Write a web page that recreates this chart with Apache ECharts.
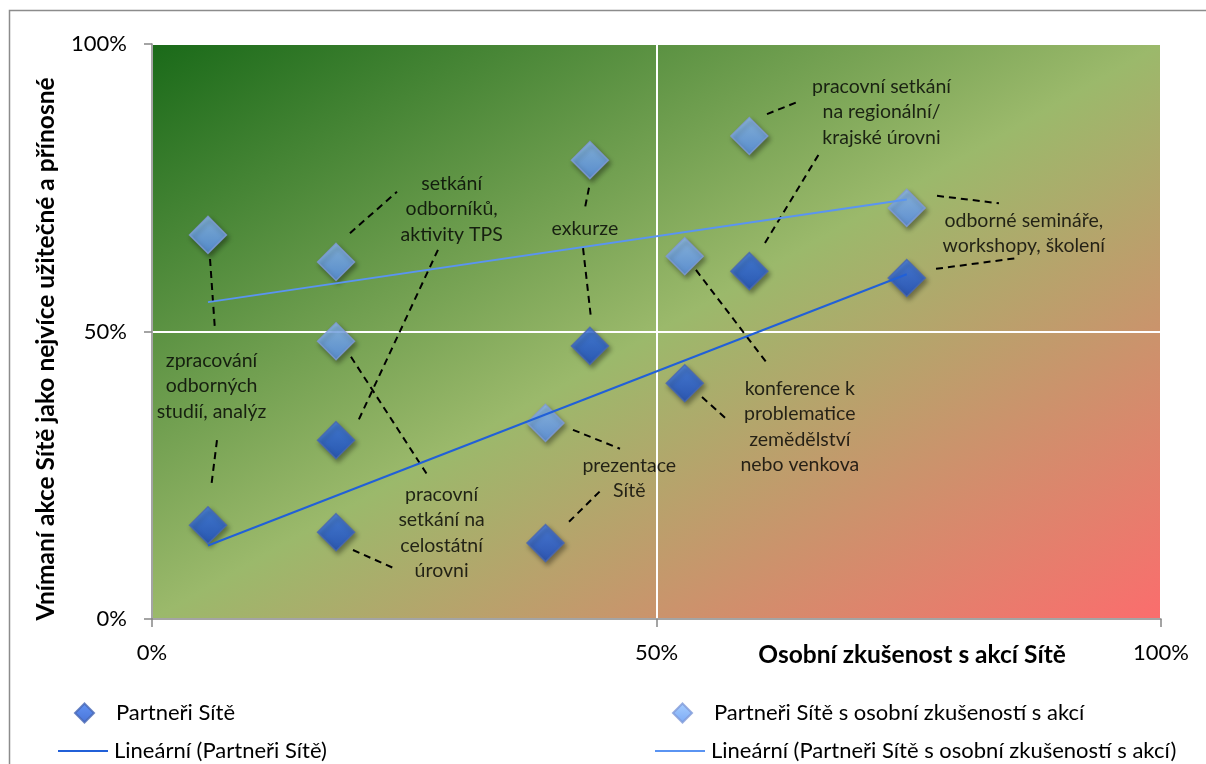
<!DOCTYPE html>
<html>
<head>
<meta charset="utf-8">
<script src="https://cdn.jsdelivr.net/npm/echarts@6/dist/echarts.min.js"></script>
<style>
  html, body { margin: 0; padding: 0; background: #fff; }
  #chart { width: 1206px; height: 764px; }
</style>
</head>
<body>
<div id="chart"></div>
<script>
// Activities of the network (callout texts)
const activities = [
  'zpracování\nodborných\nstudií, analýz',
  'setkání\nodborníků,\naktivity TPS',
  'pracovní\nsetkání na\ncelostátní\núrovni',
  'exkurze',
  'prezentace\nSítě',
  'konference k\nproblematice\nzemědělství\nnebo venkova',
  'pracovní setkání\nna regionální/\nkrajské úrovni',
  'odborné semináře,\nworkshopy, školení'
];
// Share of partners with personal experience of the activity (%)
const experience = [5.55, 18.24, 18.24, 43.4, 39.0, 52.8, 59.2, 74.8];
// Share rating the activity as most useful – all partners (%)
const usefulAll = [16.3, 31.1, 15.1, 47.5, 13.2, 41.0, 60.5, 59.3];
// Share rating the activity as most useful – partners with personal experience (%)
const usefulExperienced = [66.8, 62.1, 48.3, 79.8, 34.1, 63.1, 84.0, 71.5];

const xTickLabels = ['0%', '50%', '100%'];
const yTickLabels = ['0%', '50%', '100%'];

const seriesNames = [
  'Partneři Sítě',
  'Partneři Sítě s osobní zkušeností s akcí',
  'Lineární (Partneři Sítě)',
  'Lineární (Partneři Sítě s osobní zkušeností s akcí)'
];

// Callout text anchors (axis units)
const calloutAnchors = [
  [5.9, 40.5], [29.7, 71.3], [28.7, 15.0], [42.9, 67.8],
  [47.3, 24.5], [64.2, 33.4], [72.3, 88.2], [86.4, 67.1]
];
// Dashed leader segments (axis units)
const leaderSegments = [
  [[5.75, 62.6], [6.24, 50.3]], [[6.44, 31.1], [5.85, 22.8]],
  [[19.62, 67.1], [24.28, 74.3]], [[28.34, 64.2], [20.42, 34.4]],
  [[19.72, 45.6], [27.35, 24.9]], [[19.92, 12.0], [23.89, 8.9]],
  [[43.31, 75.0], [42.91, 71.5]], [[42.72, 64.5], [43.51, 52.3]],
  [[53.91, 60.7], [60.95, 44.5]], [[54.51, 38.6], [56.79, 35.0]],
  [[41.72, 32.9], [46.38, 29.6]], [[41.33, 16.9], [44.5, 22.4]],
  [[60.95, 87.8], [64.22, 90.1]], [[60.75, 65.4], [66.11, 80.9]],
  [[77.8, 73.6], [83.94, 72.3]], [[77.7, 60.9], [85.83, 62.8]]
];

const FONT = 'Lato, "Noto Sans", sans-serif';
const DARK = '#2160d8';
const LIGHT = '#5a94f2';

// Least-squares line across the observed x range
function linearTrend(xs, ys) {
  const n = xs.length;
  const mx = xs.reduce((a, b) => a + b, 0) / n;
  const my = ys.reduce((a, b) => a + b, 0) / n;
  let sxy = 0, sxx = 0;
  for (let i = 0; i < n; i++) {
    sxy += (xs[i] - mx) * (ys[i] - my);
    sxx += (xs[i] - mx) * (xs[i] - mx);
  }
  const slope = sxy / sxx;
  const icpt = my - slope * mx;
  const x0 = Math.min(...xs), x1 = Math.max(...xs);
  return [[x0, icpt + slope * x0], [x1, icpt + slope * x1]];
}

const zip = (xs, ys) => xs.map((x, i) => [x, ys[i]]);

const chart = echarts.init(document.getElementById('chart'), null, { renderer: 'canvas' });

const diamondStyle = (top, bottom, border) => ({
  color: new echarts.graphic.LinearGradient(0, 0, 0, 1, [
    { offset: 0, color: top }, { offset: 1, color: bottom }
  ]),
  borderColor: border,
  borderWidth: 1.5,
  shadowBlur: 5,
  shadowOffsetX: 2,
  shadowOffsetY: 3,
  shadowColor: 'rgba(0,0,0,0.45)'
});

const legendText = { fontFamily: FONT, fontSize: 22, color: '#000' };
const lineIcon = 'path://M0 0H100V4H0Z';

const markerLegend = (name, left) => ({
  data: [{ name: name, icon: 'diamond' }],
  left: left, top: 702, padding: 0,
  itemWidth: 19, itemHeight: 19, selectedMode: false,
  textStyle: Object.assign({ padding: [0, 0, 0, 17] }, legendText)
});
const lineLegend = (name, left, color) => ({
  data: [{ name: name, icon: lineIcon, itemStyle: { color: color } }],
  left: left, top: 740, padding: 0,
  itemWidth: 52, itemHeight: 2, selectedMode: false,
  textStyle: legendText
});

const option = {
  animation: false,
  backgroundColor: '#fff',
  grid: {
    left: 152, top: 44, right: 45, bottom: 145,
    show: true,
    borderWidth: 0,
    backgroundColor: new echarts.graphic.LinearGradient(0, 0, 0.49, 1.51, [
      { offset: 0, color: '#1a6a19' },
      { offset: 0.5, color: '#9bb96b' },
      { offset: 1, color: '#fb6d6d' }
    ])
  },
  xAxis: {
    type: 'value', min: 0, max: 100, interval: 50,
    axisLine: { show: true, lineStyle: { color: '#868686', width: 1.5 } },
    axisTick: { show: true, length: 8, lineStyle: { color: '#868686', width: 1.5 } },
    axisLabel: {
      margin: 23, fontFamily: FONT, fontSize: 22, color: '#000',
      formatter: (v) => xTickLabels[Math.round(v / 50)]
    },
    splitLine: { show: true, lineStyle: { color: '#ffffff', width: 2 } }
  },
  yAxis: {
    type: 'value', min: 0, max: 100, interval: 50,
    axisLine: { show: true, lineStyle: { color: '#868686', width: 1.5 } },
    axisTick: { show: true, length: 8, lineStyle: { color: '#868686', width: 1.5 } },
    axisLabel: {
      margin: 25, fontFamily: FONT, fontSize: 22, color: '#000',
      formatter: (v) => yTickLabels[Math.round(v / 50)]
    },
    splitLine: { show: true, lineStyle: { color: '#ffffff', width: 2 } }
  },
  legend: [
    markerLegend(seriesNames[0], 74),
    markerLegend(seriesNames[1], 672),
    lineLegend(seriesNames[2], 58, DARK),
    lineLegend(seriesNames[3], 655, LIGHT)
  ],
  graphic: [
    {
      type: 'rect', silent: true, z: -1,
      shape: { x: 9.5, y: 10.5, width: 1300, height: 900 },
      style: { fill: 'none', stroke: '#8c8c8c', lineWidth: 1.5 }
    },
    {
      type: 'text', silent: true, x: 912, y: 655,
      style: {
        text: 'Osobní zkušenost s akcí Sítě', font: 'bold 24.5px ' + FONT,
        fill: '#000', textAlign: 'center', textVerticalAlign: 'middle'
      }
    },
    {
      type: 'text', silent: true, x: 46, y: 349, rotation: Math.PI / 2,
      style: {
        text: 'Vnímaní akce Sítě jako nejvíce užitečné a přínosné', font: 'bold 24.5px ' + FONT,
        fill: '#000', textAlign: 'center', textVerticalAlign: 'middle'
      }
    }
  ],
  series: [
    {
      name: 'leaders', type: 'lines', coordinateSystem: 'cartesian2d', silent: true, z: 2,
      lineStyle: { color: '#000', width: 2, type: [7, 5], opacity: 1 },
      data: leaderSegments.map((s) => ({ coords: s }))
    },
    {
      name: 'callouts', type: 'scatter', silent: true, z: 3,
      symbolSize: 1, itemStyle: { color: 'rgba(0,0,0,0)' },
      label: {
        show: true, position: 'inside', formatter: '{b}',
        fontFamily: FONT, fontSize: 19.5, lineHeight: 25.5, color: '#000', align: 'center'
      },
      data: calloutAnchors.map((p, i) => ({ name: activities[i], value: p }))
    },
    {
      name: seriesNames[1], type: 'scatter', z: 4,
      symbol: 'diamond', symbolSize: 37,
      itemStyle: diamondStyle('#92c2ff', '#5a94f2', '#7f9ad8'),
      data: zip(experience, usefulExperienced)
    },
    {
      name: seriesNames[0], type: 'scatter', z: 4,
      symbol: 'diamond', symbolSize: 37,
      itemStyle: diamondStyle('#3c7af2', '#1b50cc', '#4766b4'),
      data: zip(experience, usefulAll)
    },
    {
      name: seriesNames[2], type: 'line', z: 5,
      symbol: 'none', showSymbol: false,
      lineStyle: { color: DARK, width: 2 },
      itemStyle: { color: DARK },
      data: linearTrend(experience, usefulAll)
    },
    {
      name: seriesNames[3], type: 'line', z: 5,
      symbol: 'none', showSymbol: false,
      lineStyle: { color: LIGHT, width: 2 },
      itemStyle: { color: LIGHT },
      data: linearTrend(experience, usefulExperienced)
    }
  ]
};

chart.setOption(option);
</script>
</body>
</html>
